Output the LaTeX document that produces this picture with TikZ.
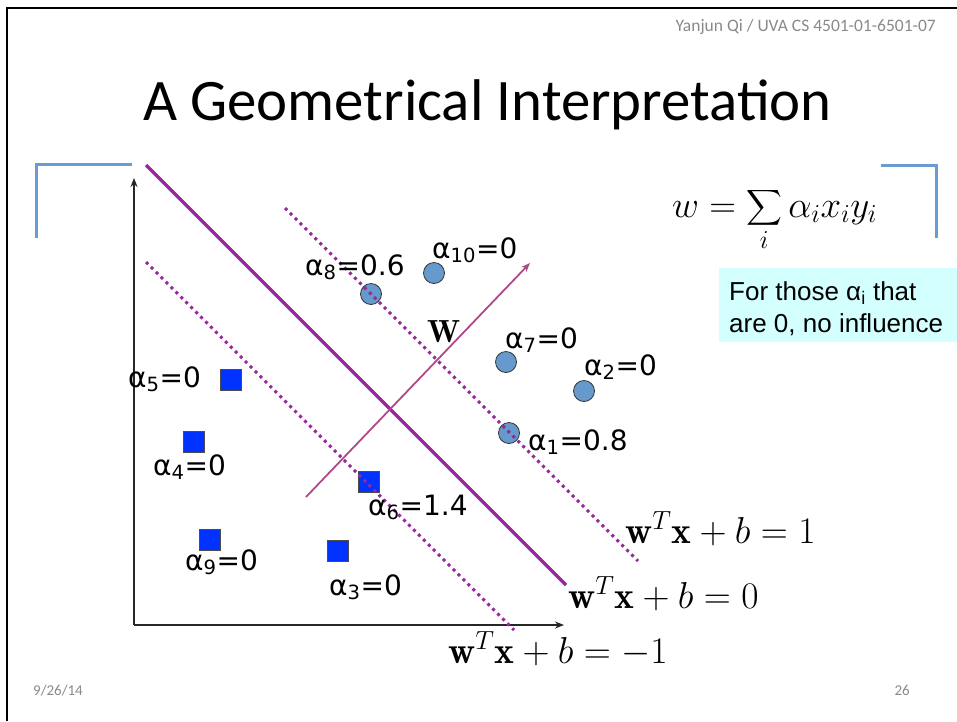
\RequirePackage{fix-cm}
\documentclass[tikz,border=0pt]{standalone}
\usepackage{amsmath}
\usepackage{fontspec}
\usepackage{xcolor}
\usepackage{tikz}
\usetikzlibrary{arrows.meta}
\newfontfamily\slidefont{Carlito}
\newfontfamily\labfont{DejaVu Sans}
\newfontfamily\boxfont{Liberation Sans}
\definecolor{svmpurple}{RGB}{150,40,155}
\definecolor{warrow}{RGB}{176,74,134}
\definecolor{ptblue}{RGB}{102,153,204}
\definecolor{sqblue}{RGB}{0,51,255}
\definecolor{brackblue}{RGB}{106,155,209}
\definecolor{footgray}{RGB}{137,137,137}
\definecolor{boxcyan}{RGB}{212,255,255}
\newcommand{\alab}[2]{α\textsubscript{#1}=#2}

\begin{document}
\begin{tikzpicture}[x=1pt, y=-1pt, >={Stealth[length=9pt, width=7pt]},
  posdot/.style={circle, draw=black!80, fill=ptblue, line width=0.8pt, minimum size=21pt, inner sep=0pt},
  negsq/.style={rectangle, draw=black!70, fill=sqblue, line width=0.8pt, minimum size=21pt, inner sep=0pt},
  lab/.style={anchor=base west, inner sep=0pt, font=\labfont\fontsize{28}{30}\selectfont},
  hyp/.style={anchor=base west, inner sep=0pt, font=\fontsize{37.5}{40}\selectfont},
  plane/.style={draw=svmpurple, line width=3.5pt},
  marg/.style={draw=svmpurple, line width=3pt, dash pattern=on 3pt off 4pt},
  axisline/.style={draw=black!85, line width=1.8pt, ->},
  sbrack/.style={draw=brackblue, line width=3pt},
  foot/.style={inner sep=0pt, text=footgray, font=\slidefont\fontsize{15}{17}\selectfont}]
\useasboundingbox (0,0) rectangle (957,721);
%% slide frame
\coordinate (fl) at (7,721);
\coordinate (fc) at (7,8);
\coordinate (fr) at (957,8);
\draw[line width=2.5pt] (fl) -- (fc) -- (fr);
\node[foot, anchor=base east, font=\slidefont\fontsize{17.5}{19}\selectfont] (head) at (936,31) {Yanjun Qi / UVA CS 4501-01-6501-07};
\node[anchor=base west, inner sep=0pt, font=\slidefont\fontsize{58.8}{62}\selectfont] (title) at (143,120) {A Geometrical Interpretation};
\node[foot, anchor=base west] (date) at (33,695) {9/26/14};
\node[foot, anchor=base east] (page) at (910,695) {26};
%% blue brackets
\coordinate (lb1) at (36,238);
\coordinate (lb2) at (36,164);
\coordinate (lb3) at (132,164);
\coordinate (rb1) at (881,165);
\coordinate (rb2) at (936,165);
\coordinate (rb3) at (936,238);
\draw[sbrack] (lb1) -- (lb2) -- (lb3);
\draw[sbrack] (rb1) -- (rb2) -- (rb3);
%% axes
\coordinate (O) at (134,625);
\coordinate (ytop) at (134,178);
\coordinate (xend) at (564,625);
\draw[axisline] (O) -- (ytop);
\draw[axisline] (O) -- (xend);
%% points
\node[posdot] (p8) at (371,294) {};
\node[posdot] (p10) at (434,273) {};
\node[posdot] (p7) at (506,362) {};
\node[posdot] (p2) at (584,391) {};
\node[posdot] (p1) at (509,433) {};
\node[negsq] (n5) at (231,380) {};
\node[negsq] (n4) at (194,442) {};
\node[negsq] (n6) at (369,482) {};
\node[negsq] (n9) at (210,540) {};
\node[negsq] (n3) at (338,551) {};
%% hyperplanes
\coordinate (h0a) at (146,165);
\coordinate (h0b) at (566,585);
\coordinate (hpa) at (285,208);
\coordinate (hpb) at (638,561);
\coordinate (hma) at (146,262);
\coordinate (hmb) at (514,630);
\draw[plane] (h0a) -- (h0b);
\draw[marg] (hpa) -- (hpb);
\draw[marg] (hma) -- (hmb);
\coordinate (wa) at (306,497);
\coordinate (wb) at (530,263);
\draw[->, draw=warrow, line width=1.8pt] (wa) -- (wb);
\node[anchor=base west, inner sep=0pt, font=\fontsize{32}{34}\selectfont] (wlab) at (427,342) {$\mathbf{W}$};
%% labels
\node[lab] (l8) at (305,275) {\alab{8}{0.6}};
\node[lab] (l10) at (432,258) {\alab{10}{0}};
\node[lab] (l7) at (505,348) {\alab{7}{0}};
\node[lab] (l2) at (584,375) {\alab{2}{0}};
\node[lab] (l1) at (528,450) {\alab{1}{0.8}};
\node[lab] (l5) at (128,387) {\alab{5}{0}};
\node[lab] (l4) at (153,475) {\alab{4}{0}};
\node[lab] (l6) at (368,515) {\alab{6}{1.4}};
\node[lab] (l9) at (185,570) {\alab{9}{0}};
\node[lab] (l3) at (329,595) {\alab{3}{0}};
\node[hyp] (eqp) at (625,543) {$\mathbf{w}^T\mathbf{x}+b=1$};
\node[hyp] (eq0) at (568,608) {$\mathbf{w}^T\mathbf{x}+b=0$};
\node[hyp] (eqm) at (448,663) {$\mathbf{w}^T\mathbf{x}+b=-1$};
%% formula and note
\node[anchor=base west, inner sep=0pt, font=\fontsize{37}{40}\selectfont] (sumw) at (672,217) {$\displaystyle w=\sum_i \alpha_i x_i y_i$};
\node[anchor=north west, fill=boxcyan, minimum width=238pt, minimum height=74pt, inner sep=0pt] (note) at (719,268) {};
\node[anchor=base west, inner sep=0pt, font=\boxfont\fontsize{26}{30}\selectfont] (note1) at (729,300) {For those α\textsubscript{i} that};
\node[anchor=base west, inner sep=0pt, font=\boxfont\fontsize{26}{30}\selectfont] (note2) at (729,332) {are 0, no influence};
\end{tikzpicture}
\end{document}
